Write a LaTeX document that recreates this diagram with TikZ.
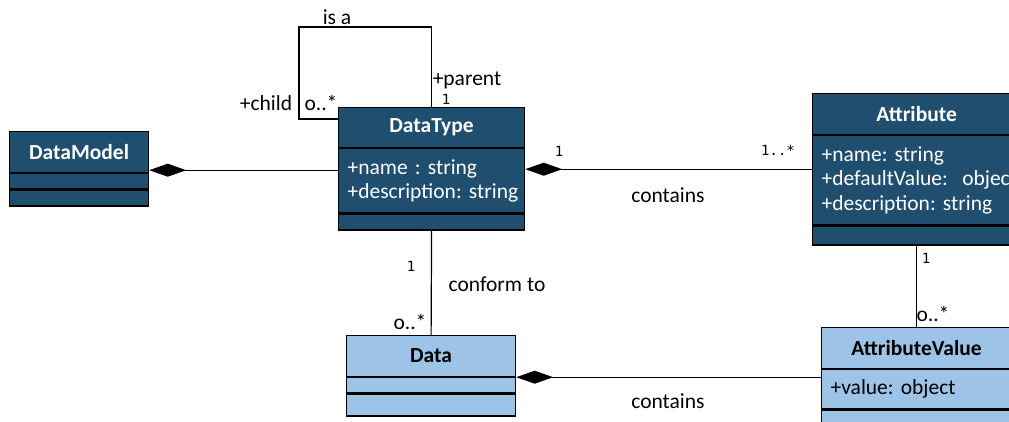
\documentclass[tikz,border=0pt]{standalone}
\usepackage{fontspec}
\setmainfont{Carlito}
\newfontfamily\multfont{DejaVu Sans Mono}
\usetikzlibrary{arrows.meta}
\definecolor{dkblue}{HTML}{1F4E6E}
\definecolor{ltblue}{HTML}{9DC3E6}
\frenchspacing

\begin{document}
\begin{tikzpicture}[x=1pt,y=-1pt,line width=1.2pt,
  part/.style={draw=black,anchor=north west,inner xsep=9pt,inner ysep=0pt,
    align=left,font=\fontsize{21.5}{24.5}\selectfont},
  head/.style={part,align=center,font=\fontsize{21.5}{24.5}\selectfont\bfseries},
  dark/.style={fill=dkblue,text=white},
  light/.style={fill=ltblue,text=black},
  lbl/.style={inner sep=0pt,font=\fontsize{21.5}{24.5}\selectfont},
  mult/.style={inner sep=0pt,font=\multfont\fontsize{14}{16}\selectfont},
  comp/.style={{Diamond[length=37pt,width=13pt]}-}]
\useasboundingbox (0,0) rectangle (1009,421);
\clip (0,0) rectangle (1009,421);
% classes
\node[head,dark,text width=121pt,minimum height=41pt] (dmT) at (9,131) {DataModel};
\node[part,dark,text width=121pt,minimum height=15pt] (dmA) at (dmT.south west) {};
\node[part,dark,text width=121pt,minimum height=16pt] (dmO) at (dmA.south west) {};

\node[head,dark,text width=168pt,minimum height=40pt] (dtT) at (338,107) {DataType};
\node[part,dark,text width=168pt,minimum height=64pt] (dtA) at (dtT.south west) {\mbox{+name : string}\\\mbox{+description: string}};
\node[part,dark,text width=168pt,minimum height=16pt] (dtO) at (dtA.south west) {};

\node[head,dark,text width=190pt,minimum height=41pt] (atT) at (812,93) {Attribute};
\node[part,dark,text width=190pt,minimum height=89pt] (atA) at (atT.south west) {\mbox{+name: string}\\\mbox{+defaultValue:\ \ object}\\\mbox{+description: string}};
\node[part,dark,text width=190pt,minimum height=19pt] (atO) at (atA.south west) {};

\node[head,light,text width=151pt,minimum height=41pt] (daT) at (346,335) {Data};
\node[part,light,text width=151pt,minimum height=15pt] (daA) at (daT.south west) {};
\node[part,light,text width=151pt,minimum height=22pt] (daO) at (daA.south west) {};

\node[head,light,text width=172pt,minimum height=41pt] (avT) at (821,327) {AttributeValue};
\node[part,light,text width=172pt,minimum height=39pt] (avA) at (avT.south west) {\mbox{+value: object}};
\node[part,light,text width=172pt,minimum height=20pt] (avO) at (avA.south west) {};

% connectors
\draw[comp] ([yshift=3pt]dmT.south east) coordinate (dmJoin) -- (dmJoin -| dtA.west);
\draw[comp] ([yshift=-21pt]dtA.north east) coordinate (dtJoin) -- (dtJoin -| atA.west);
\draw[comp] (daT.south east) -- (daT.south east -| avA.west);
\draw (dtO.south) -- (daT.north);
\draw (atO.south) -- (avT.north);
\coordinate (loopA) at (299,27);
\draw (dtT.north) |- (loopA) |- ([yshift=-12pt]dtT.north west);

% labels
\node[lbl] (isa) at (337,17) {is a};
\node[lbl] (parent) at (467,80) {+parent};
\node[mult] (parentM) at (446,99) {1};
\node[lbl] (child) at (266,103) {+child};
\node[lbl] (childM) at (321,103) {o..*};
\node[mult] (dtAtM) at (559,151) {1};
\node[mult] (atDtM) at (778,150) {1..*};
\node[lbl] (containsA) at (668,195) {contains};
\node[mult] (dtDaM) at (411,266) {1};
\node[lbl] (conform) at (497,284) {conform to};
\node[lbl] (daDtM) at (410,322) {o..*};
\node[mult] (atAvM) at (926,258) {1};
\node[lbl] (avAtM) at (933,314) {o..*};
\node[lbl] (containsB) at (668,401) {contains};
\end{tikzpicture}
\end{document}
